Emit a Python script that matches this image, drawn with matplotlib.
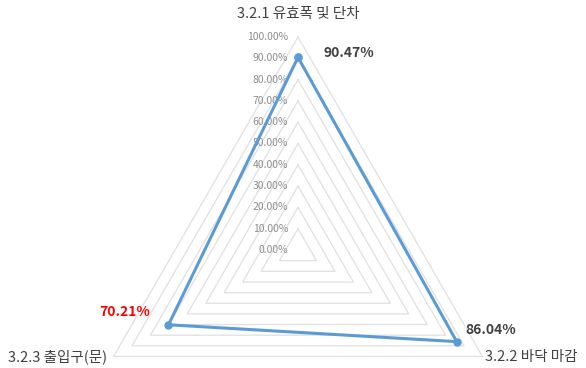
import numpy as np
import matplotlib
matplotlib.use("Agg")
import matplotlib.pyplot as plt

plt.rcParams['font.family'] = ['Noto Sans CJK KR', 'DejaVu Sans']

categories = ["3.2.1 유효폭 및 단차", "3.2.2 바닥 마감", "3.2.3 출입구(문)"]
values = [0.9047, 0.8604, 0.7021]
value_labels = ["90.47%", "86.04%", "70.21%"]
value_colors = ["#404040", "#404040", "#ff0000"]
ticks = [0.0, 0.1, 0.2, 0.3, 0.4, 0.5, 0.6, 0.7, 0.8, 0.9, 1.0]

fig = plt.figure(figsize=(5.86, 3.68), dpi=100)
W, H = 586, 368
cx, cy, R = 298, 250, 213
ax = fig.add_axes([(cx - R) / W, (H - cy - R) / H, 2 * R / W, 2 * R / H],
                  projection="polar")
ax.set_theta_offset(np.pi / 2)
ax.set_theta_direction(-1)
ax.set_ylim(0, 1)
ax.grid(False)
ax.set_xticks([])
ax.set_yticks([])
ax.spines['polar'].set_visible(False)
ax.patch.set_alpha(0)

n = len(categories)
theta = np.arange(n) * 2 * np.pi / n
theta_c = np.append(theta, theta[0])

# triangle gridlines
for t in ticks[1:]:
    ax.plot(theta_c, [t] * (n + 1), color="#e0e0e0", lw=0.9, clip_on=False, zorder=1)

# radial labels
for t in ticks:
    ax.annotate("{:.2f}%".format(t * 100), xy=(0, t), xytext=(-10, 0),
                textcoords="offset pixels", ha="right", va="center",
                fontsize=7.5, color="#8c8c8c", annotation_clip=False)

# data series
vals_c = np.append(values, values[0])
ax.plot(theta_c, vals_c, color="#5b9bd5", lw=2.2, marker="o", ms=5,
        clip_on=False, zorder=3)

# value labels
offsets = [(25, 4, "left"), (9, 12, "left"), (-18, 13, "right")]
for th, v, lab, col, (dx, dy, ha) in zip(theta, values, value_labels, value_colors, offsets):
    ax.annotate(lab, xy=(th, v), xytext=(dx, dy), textcoords="offset pixels",
                ha=ha, va="center", fontsize=10, fontweight="bold", color=col,
                annotation_clip=False)

# category labels
cat_offsets = [(0, 23, "center"), (3, 0, "left"), (-6, 0, "right")]
for th, lab, (dx, dy, ha) in zip(theta, categories, cat_offsets):
    ax.annotate(lab, xy=(th, 1.0), xytext=(dx, dy), textcoords="offset pixels",
                ha=ha, va="center", fontsize=10.5, color="#404040",
                annotation_clip=False)

fig.savefig("out.png", dpi=100)
